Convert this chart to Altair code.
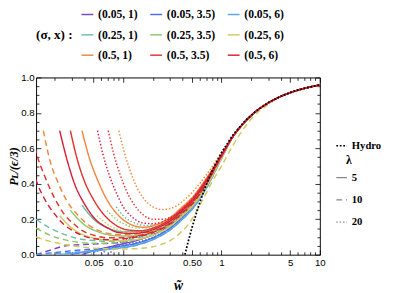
import altair as alt
import pandas as pd

GROUPS = ["(0.05, 1)", "(0.05, 3.5)", "(0.05, 6)",
          "(0.25, 1)", "(0.25, 3.5)", "(0.25, 6)",
          "(0.5, 1)", "(0.5, 3.5)", "(0.5, 6)"]
COLORS = ["#7E44C4", "#4A6FE3", "#5AA5E6",
          "#6CBFA6", "#8CC867", "#D3C95F",
          "#F0883F", "#E3342F", "#D8203A"]
LAMBDAS = ["5", "10", "20"]
DASHES = [[1, 0], [6, 4], [1.5, 2]]

# shared tail (all curves merge on the attractor beyond w~1)
TAIL = [[1.3, 0.665], [1.7, 0.745], [2.2, 0.805], [3, 0.857], [4, 0.893],
        [5.5, 0.922], [7.5, 0.943], [10, 0.957]]

HYDRO_W = [0.4244, 0.43, 0.45, 0.47, 0.5, 0.55, 0.6, 0.65, 0.7, 0.8, 0.85, 1.0,
           1.3, 1.7, 2.2, 3, 4, 5.5, 7.5, 10]
HYDRO_V = [0.0, 0.013, 0.057, 0.097, 0.151, 0.228, 0.293, 0.347, 0.394, 0.470,
           0.501, 0.576, 0.674, 0.750, 0.807, 0.859, 0.894, 0.923, 0.943, 0.958]

# sigma = 0.05
S005_X1_L5 = [[0.038, 0.0], [0.05, 0.022], [0.07, 0.042], [0.1, 0.062], [0.15, 0.087], [0.2, 0.112], [0.3, 0.167], [0.4, 0.226], [0.5, 0.28], [0.7, 0.395], [1, 0.553]]
S005_X1_L10 = [[0.013, 0.0], [0.018, 0.025], [0.026, 0.05], [0.04, 0.058], [0.06, 0.062], [0.1, 0.07], [0.15, 0.088], [0.2, 0.112], [0.3, 0.167], [0.4, 0.226], [0.5, 0.28], [0.7, 0.395], [1, 0.553]]
S005_X1_L20 = [[0.07, 0.0], [0.08, 0.03], [0.09, 0.06], [0.1, 0.08], [0.12, 0.095], [0.15, 0.105], [0.2, 0.125], [0.3, 0.172], [0.4, 0.23], [0.5, 0.283], [0.7, 0.397], [1, 0.554]]
S005_X35_L5 = [[0.029, 0.0], [0.04, 0.015], [0.06, 0.03], [0.08, 0.04], [0.1, 0.05], [0.15, 0.07], [0.2, 0.095], [0.3, 0.15], [0.4, 0.21], [0.5, 0.265], [0.7, 0.385], [1, 0.548]]
S005_X35_L10 = [[0.013, 0.0], [0.02, 0.012], [0.03, 0.022], [0.05, 0.032], [0.07, 0.04], [0.1, 0.05], [0.15, 0.07], [0.2, 0.095], [0.3, 0.15], [0.4, 0.21], [0.5, 0.265], [0.7, 0.385], [1, 0.548]]
S005_X35_L20 = [[0.06, 0.0], [0.07, 0.035], [0.085, 0.05], [0.1, 0.058], [0.15, 0.075], [0.2, 0.098], [0.3, 0.152], [0.4, 0.212], [0.5, 0.268], [0.7, 0.387], [1, 0.55]]
S005_X6_L5 = [[0.0226, 0.0], [0.03, 0.008], [0.05, 0.02], [0.07, 0.03], [0.1, 0.04], [0.15, 0.06], [0.2, 0.085], [0.3, 0.14], [0.4, 0.2], [0.5, 0.255], [0.7, 0.375], [1, 0.543]]
S005_X6_L10 = [[0.013, 0.0], [0.02, 0.005], [0.03, 0.012], [0.05, 0.022], [0.07, 0.03], [0.1, 0.04], [0.15, 0.06], [0.2, 0.085], [0.3, 0.14], [0.4, 0.2], [0.5, 0.255], [0.7, 0.375], [1, 0.543]]
S005_X6_L20 = [[0.047, 0.0], [0.055, 0.02], [0.07, 0.033], [0.1, 0.045], [0.15, 0.063], [0.2, 0.088], [0.3, 0.143], [0.4, 0.203], [0.5, 0.258], [0.7, 0.377], [1, 0.545]]

# sigma = 0.25
S025_X1_L5 = [[0.038, 0.28], [0.05, 0.2], [0.07, 0.15], [0.1, 0.13], [0.15, 0.13], [0.2, 0.145], [0.3, 0.19], [0.4, 0.245], [0.5, 0.295], [0.7, 0.41], [1, 0.56]]
S025_X1_L10 = [[0.013, 0.2], [0.018, 0.15], [0.025, 0.115], [0.035, 0.09], [0.05, 0.08], [0.07, 0.075], [0.1, 0.08], [0.15, 0.1], [0.2, 0.125], [0.3, 0.175], [0.4, 0.235], [0.5, 0.285], [0.7, 0.40], [1, 0.555]]
S025_X1_L20 = [[0.085, 0.27], [0.1, 0.22], [0.13, 0.18], [0.17, 0.165], [0.22, 0.17], [0.3, 0.2], [0.4, 0.25], [0.5, 0.30], [0.7, 0.415], [1, 0.56]]
S025_X35_L5 = [[0.029, 0.25], [0.04, 0.17], [0.055, 0.13], [0.075, 0.11], [0.1, 0.105], [0.15, 0.11], [0.2, 0.13], [0.3, 0.18], [0.4, 0.24], [0.5, 0.29], [0.7, 0.405], [1, 0.555]]
S025_X35_L10 = [[0.013, 0.15], [0.018, 0.11], [0.025, 0.085], [0.035, 0.07], [0.05, 0.065], [0.07, 0.065], [0.1, 0.072], [0.15, 0.09], [0.2, 0.115], [0.3, 0.17], [0.4, 0.23], [0.5, 0.28], [0.7, 0.395], [1, 0.553]]
S025_X35_L20 = [[0.068, 0.25], [0.085, 0.2], [0.11, 0.165], [0.14, 0.15], [0.18, 0.15], [0.23, 0.165], [0.3, 0.195], [0.4, 0.245], [0.5, 0.295], [0.7, 0.41], [1, 0.558]]
S025_X6_L5 = [[0.0226, 0.22], [0.03, 0.15], [0.04, 0.11], [0.055, 0.09], [0.075, 0.08], [0.1, 0.08], [0.15, 0.09], [0.2, 0.11], [0.3, 0.16], [0.4, 0.22], [0.5, 0.27], [0.7, 0.385], [1, 0.545]]
S025_X6_L10 = [[0.013, 0.1], [0.018, 0.075], [0.025, 0.058], [0.035, 0.045], [0.05, 0.037], [0.07, 0.033], [0.1, 0.032], [0.15, 0.036], [0.2, 0.045], [0.25, 0.06], [0.3, 0.08], [0.35, 0.105], [0.4, 0.135], [0.45, 0.165], [0.5, 0.2], [0.63, 0.30], [0.8, 0.41], [1.0, 0.50], [1.3, 0.615], [1.7, 0.715], [2.2, 0.79], [3, 0.848]]
S025_X6_L20 = [[0.054, 0.22], [0.07, 0.17], [0.09, 0.14], [0.12, 0.125], [0.16, 0.125], [0.2, 0.135], [0.3, 0.175], [0.4, 0.23], [0.5, 0.28], [0.7, 0.395], [1, 0.552]]

# sigma = 0.5
S05_X1_L5 = [[0.0381, 0.70], [0.045, 0.55], [0.055, 0.42], [0.07, 0.30], [0.09, 0.22], [0.12, 0.17], [0.16, 0.155], [0.22, 0.17], [0.3, 0.21], [0.4, 0.27], [0.5, 0.32], [0.7, 0.43], [1, 0.565]]
S05_X1_L10 = [[0.0154, 0.70], [0.018, 0.53], [0.022, 0.40], [0.027, 0.30], [0.035, 0.22], [0.045, 0.165], [0.06, 0.13], [0.08, 0.115], [0.1, 0.112], [0.15, 0.12], [0.2, 0.14], [0.3, 0.19], [0.4, 0.25], [0.5, 0.30], [0.7, 0.41], [1, 0.56]]
S05_X1_L20 = [[0.0903, 0.70], [0.1, 0.6], [0.115, 0.49], [0.135, 0.39], [0.16, 0.32], [0.2, 0.27], [0.25, 0.255], [0.3, 0.26], [0.4, 0.30], [0.5, 0.35], [0.7, 0.45], [1, 0.575]]
S05_X35_L5 = [[0.029, 0.7], [0.034, 0.54], [0.04, 0.42], [0.05, 0.31], [0.065, 0.22], [0.085, 0.165], [0.11, 0.14], [0.15, 0.135], [0.2, 0.15], [0.3, 0.2], [0.4, 0.26], [0.5, 0.31], [0.7, 0.42], [1, 0.56]]
S05_X35_L10 = [[0.012, 0.66], [0.013, 0.58], [0.016, 0.44], [0.02, 0.32], [0.025, 0.23], [0.032, 0.17], [0.04, 0.13], [0.05, 0.11], [0.07, 0.095], [0.1, 0.095], [0.15, 0.11], [0.2, 0.13], [0.3, 0.18], [0.4, 0.24], [0.5, 0.29], [0.7, 0.40], [1, 0.555]]
S05_X35_L20 = [[0.0704, 0.7], [0.08, 0.57], [0.092, 0.46], [0.108, 0.36], [0.13, 0.28], [0.16, 0.225], [0.2, 0.2], [0.25, 0.2], [0.3, 0.21], [0.4, 0.26], [0.5, 0.315], [0.7, 0.425], [1, 0.565]]
S05_X6_L5 = [[0.0226, 0.7], [0.027, 0.53], [0.032, 0.40], [0.04, 0.29], [0.052, 0.2], [0.07, 0.15], [0.09, 0.125], [0.12, 0.12], [0.16, 0.125], [0.22, 0.15], [0.3, 0.19], [0.4, 0.25], [0.5, 0.30], [0.7, 0.415], [1, 0.56]]
S05_X6_L10 = [[0.012, 0.48], [0.013, 0.42], [0.016, 0.31], [0.02, 0.23], [0.025, 0.17], [0.032, 0.13], [0.04, 0.105], [0.05, 0.09], [0.07, 0.085], [0.1, 0.09], [0.15, 0.105], [0.2, 0.125], [0.3, 0.175], [0.4, 0.235], [0.5, 0.285], [0.7, 0.40], [1, 0.555]]
S05_X6_L20 = [[0.0548, 0.7], [0.062, 0.57], [0.072, 0.45], [0.085, 0.35], [0.1, 0.27], [0.125, 0.21], [0.155, 0.18], [0.2, 0.175], [0.25, 0.185], [0.3, 0.205], [0.4, 0.255], [0.5, 0.31], [0.7, 0.42], [1, 0.563]]

CURVES = [
    ("(0.05, 1)", "5", S005_X1_L5), ("(0.05, 1)", "10", S005_X1_L10), ("(0.05, 1)", "20", S005_X1_L20),
    ("(0.05, 3.5)", "5", S005_X35_L5), ("(0.05, 3.5)", "10", S005_X35_L10), ("(0.05, 3.5)", "20", S005_X35_L20),
    ("(0.05, 6)", "5", S005_X6_L5), ("(0.05, 6)", "10", S005_X6_L10), ("(0.05, 6)", "20", S005_X6_L20),
    ("(0.25, 1)", "5", S025_X1_L5), ("(0.25, 1)", "10", S025_X1_L10), ("(0.25, 1)", "20", S025_X1_L20),
    ("(0.25, 3.5)", "5", S025_X35_L5), ("(0.25, 3.5)", "10", S025_X35_L10), ("(0.25, 3.5)", "20", S025_X35_L20),
    ("(0.25, 6)", "5", S025_X6_L5), ("(0.25, 6)", "10", S025_X6_L10), ("(0.25, 6)", "20", S025_X6_L20),
    ("(0.5, 1)", "5", S05_X1_L5), ("(0.5, 1)", "10", S05_X1_L10), ("(0.5, 1)", "20", S05_X1_L20),
    ("(0.5, 3.5)", "5", S05_X35_L5), ("(0.5, 3.5)", "10", S05_X35_L10), ("(0.5, 3.5)", "20", S05_X35_L20),
    ("(0.5, 6)", "5", S05_X6_L5), ("(0.5, 6)", "10", S05_X6_L10), ("(0.5, 6)", "20", S05_X6_L20),
]

X_MAJOR = [0.05, 0.1, 0.5, 1, 5, 10]
X_MINOR = [0.02, 0.03, 0.04, 0.06, 0.07, 0.08, 0.09, 0.2, 0.3, 0.4, 0.6, 0.7,
           0.8, 0.9, 2, 3, 4, 6, 7, 8, 9]
Y_MAJOR = [0.0, 0.2, 0.4, 0.6, 0.8, 1.0]
Y_MINOR = [0.05, 0.1, 0.15, 0.25, 0.3, 0.35, 0.45, 0.5, 0.55, 0.65, 0.7, 0.75,
           0.85, 0.9, 0.95]

rows = []
for cid, (grp, lam, pts) in enumerate(CURVES):
    full = list(pts)
    last_w = full[-1][0]
    full += [p for p in TAIL if p[0] > last_w]
    for i, (w, v) in enumerate(full):
        rows.append({"id": cid, "grp": grp, "lam": lam, "w": w, "v": v, "o": i})
df = pd.DataFrame(rows)
hydro = pd.DataFrame({"w": HYDRO_W, "v": HYDRO_V, "kind": "Hydro"})

xs = alt.Scale(type="log", domain=[0.013, 10], nice=False)
ys = alt.Scale(domain=[0, 1], nice=False)
SERIF = "Liberation Serif"
SANS = "Liberation Sans"

def ax(orient, values, size, labels=False, title=None, fmt=None, expr=None, tpad=0, lpad=3, tsize=13):
    kw = dict(orient=orient, values=values, tickSize=size, offset=-size, domain=False,
              grid=False, labels=labels, ticks=True, tickColor="black", tickWidth=0.8,
              labelFont=SANS, labelFontSize=10, labelColor="black", labelPadding=lpad,
              labelFlush=False)
    if fmt:
        kw["format"] = fmt
    if expr:
        kw["labelExpr"] = expr
    if title:
        kw.update(title=title, titleFont=SERIF, titleFontSize=tsize, titleFontWeight="bold",
                  titleFontStyle="italic", titleColor="black", titlePadding=tpad)
    else:
        kw["title"] = None
    return alt.Axis(**kw)

curves = alt.Chart(df).mark_line(strokeWidth=1.5, clip=True, interpolate="monotone").encode(
    x=alt.X("w:Q", scale=xs,
            axis=ax("bottom", X_MAJOR, 5, labels=True, title="w̃",
                    expr="datum.value < 1 ? format(datum.value, '.2f') : format(datum.value, 'd')",
                    tpad=12, tsize=14)),
    y=alt.Y("v:Q", scale=ys,
            axis=ax("left", Y_MAJOR, 5, labels=True, title="Pʟ/(ϵ/3)", fmt=".1f", tpad=0,
                    lpad=2, tsize=12.5)),
    color=alt.Color("grp:N", scale=alt.Scale(domain=GROUPS, range=COLORS),
                    legend=alt.Legend(title="(σ, x) :", orient="none", legendX=0, legendY=-72,
                                      direction="horizontal", columns=3, titleOrient="left",
                                      titleAnchor="middle", symbolType="stroke", symbolSize=150,
                                      symbolStrokeWidth=1.5, labelFont=SERIF, labelFontWeight="bold",
                                      labelFontSize=12, labelColor="black", titleFont=SERIF,
                                      titleFontSize=13.5, titleFontWeight="bold", titleColor="black",
                                      columnPadding=9, rowPadding=8, titlePadding=8)),
    strokeDash=alt.StrokeDash("lam:N", scale=alt.Scale(domain=LAMBDAS, range=DASHES),
                              legend=alt.Legend(title="λ", orient="none", legendX=309, legendY=80,
                                                symbolType="stroke", symbolSize=120,
                                                symbolStrokeWidth=1.3, symbolStrokeColor="#888",
                                                labelFont=SERIF, labelFontWeight="bold",
                                                labelFontSize=11, labelColor="black",
                                                titleFont=SERIF, titleFontSize=12,
                                                titleFontWeight="bold", titleColor="black",
                                                titleAnchor="middle", rowPadding=11)),
    detail="id:N",
    order="o:Q",
)

hyd = alt.Chart(hydro).mark_line(strokeWidth=1.8, color="black", clip=True).encode(
    x=alt.X("w:Q", scale=xs, axis=None),
    y=alt.Y("v:Q", scale=ys, axis=None),
    strokeDash=alt.StrokeDash("kind:N", scale=alt.Scale(domain=["Hydro"], range=[[1.8, 1.8]]),
                              legend=alt.Legend(title=None, orient="none", legendX=309, legendY=64,
                                                symbolType="stroke", symbolSize=120,
                                                symbolStrokeWidth=1.5, symbolStrokeColor="black",
                                                labelFont=SERIF, labelFontWeight="bold",
                                                labelFontSize=11, labelColor="black")),
)

def axis_layer(xa, ya):
    return alt.Chart(hydro).mark_line(opacity=0).encode(
        x=alt.X("w:Q", scale=xs, axis=xa),
        y=alt.Y("v:Q", scale=ys, axis=ya),
    )

minor_bl = axis_layer(ax("bottom", X_MINOR, 3), ax("left", Y_MINOR, 3))
major_tr = axis_layer(ax("top", X_MAJOR, 5), ax("right", Y_MAJOR, 5))
minor_tr = axis_layer(ax("top", X_MINOR, 3), ax("right", Y_MINOR, 3))

chart = alt.layer(minor_bl, major_tr, minor_tr, curves, hyd).resolve_scale(
    strokeDash="independent"
).resolve_axis(x="independent", y="independent").properties(
    width=293, height=183,
    autosize=alt.AutoSizeParams(type="none"),
    padding={"left": 29, "top": 67, "right": 90, "bottom": 40},
).configure_view(stroke="black", strokeWidth=1)

chart.save("out.html", embed_options={"renderer": "svg", "actions": False})
